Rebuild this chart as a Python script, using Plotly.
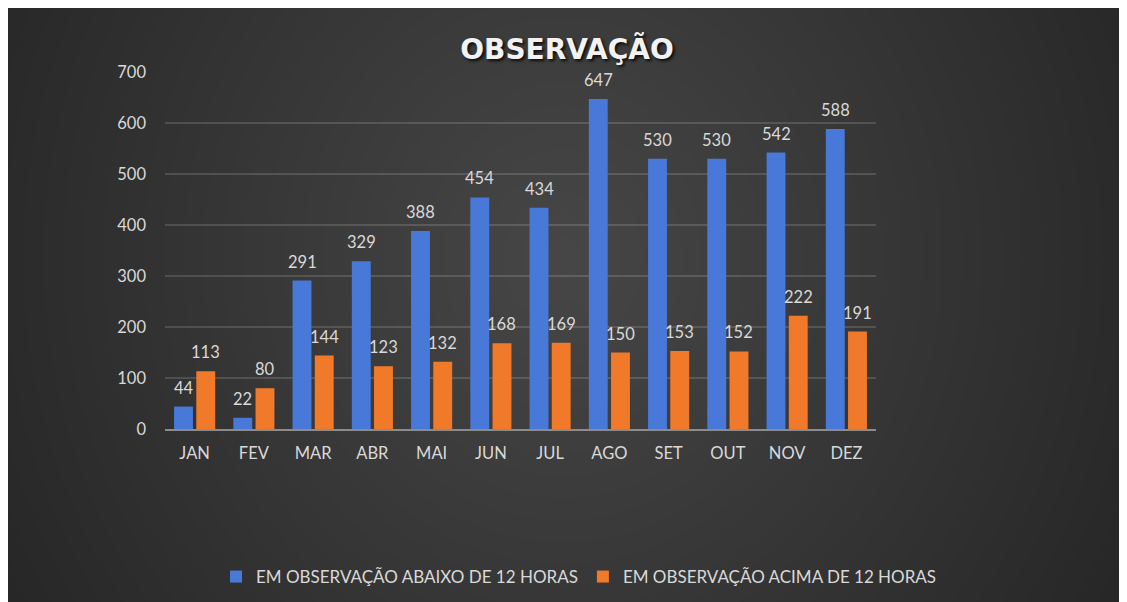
import plotly.graph_objects as go

months = ["JAN", "FEV", "MAR", "ABR", "MAI", "JUN", "JUL", "AGO", "SET", "OUT", "NOV", "DEZ"]
abaixo_12h = [44, 22, 291, 329, 388, 454, 434, 647, 530, 530, 542, 588]
acima_12h = [113, 80, 144, 123, 132, 168, 169, 150, 153, 152, 222, 191]
series_names = ["EM OBSERVAÇÃO ABAIXO DE 12 HORAS", "EM OBSERVAÇÃO ACIMA DE 12 HORAS"]
y_ticks = [0, 100, 200, 300, 400, 500, 600, 700]

# the page adds an 8px body margin; figure coordinates = screen - 8
W, H = 1127, 594
ML, MR, MT, MB = 157, 259, 64, 173
PW, PH = W - ML - MR, H - MT - MB

def px_x(p):
    return (p - ML) / PW

def px_y(p):
    return (H - MB - p) / PH

FONT = "Lato"
TXT = "#d9d9d9"
BLUE = "#4878d8"
ORANGE = "#f07a2a"

fig = go.Figure()
fig.add_trace(go.Bar(x=months, y=abaixo_12h, name=series_names[0], marker=dict(color=BLUE, line=dict(width=0))))
fig.add_trace(go.Bar(x=months, y=acima_12h, name=series_names[1], marker=dict(color=ORANGE, line=dict(width=0))))

shapes = []
# soft radial glow
cx, cy = 555, 250
n = 32
for i in range(n):
    f = 1 - i / n
    rx = 640 * f
    ry = 700 * f
    shapes.append(dict(type="circle", xref="paper", yref="paper",
                       x0=px_x(cx - rx), x1=px_x(cx + rx),
                       y0=px_y(cy + ry), y1=px_y(cy - ry),
                       fillcolor="rgba(255,255,255,0.0075)", line=dict(width=0), layer="below"))

annotations = []
slot = PW / len(months) * (1 - 0.25) / 2
for vals, sh in ((abaixo_12h, -slot / 2), (acima_12h, slot / 2)):
    for m, v in zip(months, vals):
        annotations.append(dict(x=m, y=v, text=str(v), showarrow=False, xref="x", yref="y",
                                yanchor="bottom", xanchor="center", xshift=sh, yshift=7,
                                font=dict(family=FONT, size=16.5, color=TXT)))

fig.update_layout(
    width=W, height=H,
    margin=dict(l=ML, r=MR, t=MT, b=MB, autoexpand=False),
    paper_bgcolor="#262626", plot_bgcolor="rgba(0,0,0,0)",
    barmode="group", bargap=0.25, bargroupgap=0.15,
    title=dict(text="<b>OBSERVAÇÃO</b>", x=px_x(559), xanchor="center", xref="paper",
               y=1 - 41 / H, yanchor="middle",
               font=dict(family="DejaVu Sans", size=28, color="#f2f2f2",
                         shadow="2px 2px 3px rgba(0,0,0,0.8)")),
    xaxis=dict(tickfont=dict(family=FONT, size=16.5, color=TXT), showgrid=False,
               showline=True, linecolor="#8c8c8c", linewidth=1.5, ticks="", ticklabelstandoff=8),
    yaxis=dict(range=[0, 700], tickvals=y_ticks, tickfont=dict(family=FONT, size=16.5, color=TXT),
               showgrid=True, gridcolor="rgba(255,255,255,0.14)", gridwidth=1.5, zeroline=False,
               ticks="", ticklabelstandoff=18),
    legend=dict(orientation="h", x=px_x(934), xanchor="right",
                y=px_y(569), yanchor="middle",
                font=dict(family=FONT, size=17, color=TXT), bgcolor="rgba(0,0,0,0)",
                itemwidth=30, traceorder="normal"),
    shapes=shapes, annotations=annotations,
)
fig.write_html("out.html", post_script="document.body.style.overflow='hidden';")
